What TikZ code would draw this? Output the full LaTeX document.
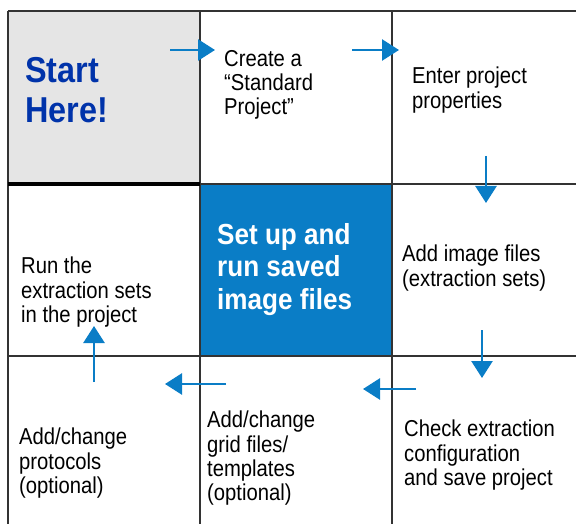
\documentclass[tikz,border=0pt]{standalone}
\usepackage{fontspec}
\setmainfont{Liberation Sans}[FakeStretch=0.9]
\newfontfamily\stepfont{Liberation Sans}[FakeStretch=0.88,Ligatures=TeX]
\usepackage{xcolor}
\usetikzlibrary{arrows.meta,positioning}
\definecolor{flowblue}{HTML}{0A7DC6}
\definecolor{startblue}{HTML}{0033AA}
\definecolor{startgray}{HTML}{E5E5E5}
\definecolor{linegray}{HTML}{333333}

\begin{document}
\begin{tikzpicture}[x=1pt,y=-1pt,
            every node/.append style = {anchor = north west, inner sep = 0pt, align = left},
            steptext/.style = {font = \stepfont\fontsize{23}{24.3}\selectfont},
            starttext/.style = {font = \bfseries\fontsize{36}{40.5}\selectfont, text = startblue},
            boxtext/.style = {font = \bfseries\fontsize{29}{32.5}\selectfont, text = white},
            flow/.style = {draw = flowblue, line width = 2.6pt, -{Triangle[length=17pt,width=21pt]}},
            gridline/.style = {draw = linegray, line width = 1.3pt}]
        \useasboundingbox (0,0) rectangle (576,524);
        % cell backgrounds
        \fill[startgray] (8,11) rectangle (200,184);
        \fill[flowblue] (200,184) rectangle (392,356);
        % grid
        \draw[gridline] (8,11) -- (576,11);
        \draw[gridline] (8,11) -- (8,524);
        \draw[gridline] (200,11) -- (200,524);
        \draw[gridline] (392,11) -- (392,524);
        \draw[gridline] (200,184) -- (576,184);
        \draw[gridline] (8,356) -- (576,356);
        \draw[line width = 4pt] (8,184) -- (200,184);
        % texts
        \node[starttext] (start) at (25,57) {Start\\Here!};
        \node[steptext] (create) at (224,50) {Create a\\``Standard\\Project''};
        \node[steptext] (enter) at (412,67) {Enter project\\properties};
        \node[steptext] (addimg) at (402,245) {Add image files\\(extraction sets)};
        \node[steptext] (check) at (404,420) {Check extraction\\configuration\\and save project};
        \node[steptext] (gridfiles) at (207,411) {Add/change\\grid files/\\templates\\(optional)};
        \node[steptext] (protocols) at (19,428) {Add/change\\protocols\\(optional)};
        \node[steptext] (runsets) at (21,257) {Run the\\extraction sets\\in the project};
        \node[boxtext] (setup) at (217,223) {Set up and\\run saved\\image files};
        % arrow ends
        \coordinate (s1) at (170,50);  \coordinate (e1) at (215,50);
        \coordinate (s2) at (352,50);  \coordinate (e2) at (399,50);
        \coordinate (s3) at (486,156); \coordinate (e3) at (486,203);
        \coordinate (s4) at (482,330); \coordinate (e4) at (482,378);
        \coordinate (s5) at (416,389); \coordinate (e5) at (363,389);
        \coordinate (s6) at (226,384); \coordinate (e6) at (165,384);
        \coordinate (s7) at (94,382);  \coordinate (e7) at (94,326);
        \foreach \i in {1,...,7}
            \draw[flow] (s\i) -- (e\i);
\end{tikzpicture}
\end{document}
